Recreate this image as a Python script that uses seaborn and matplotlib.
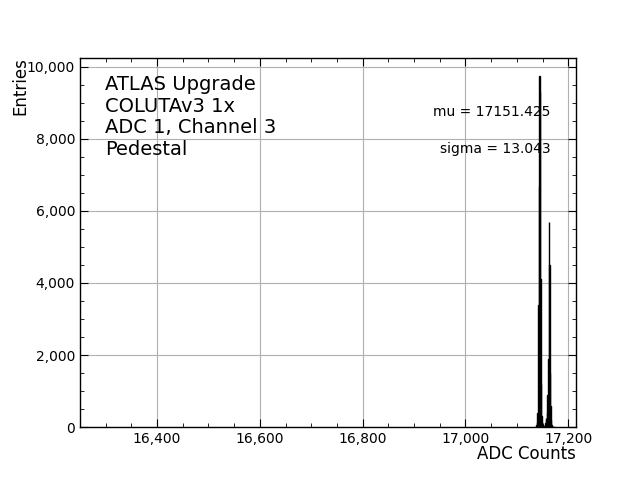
import matplotlib
matplotlib.use("Agg")
import matplotlib.pyplot as plt
import matplotlib.ticker as mticker
import seaborn as sns
import pandas as pd

adc_codes = list(range(17137, 17175))
entries = [20, 60, 150, 380, 350, 3400, 6700, 9750, 9300, 4100, 1200, 300,
           150, 60, 40, 30, 30, 40, 50, 120, 250, 200, 400, 900, 1900, 5700,
           4500, 1500, 600, 200, 60, 20, 10, 5, 0, 0, 0, 0]
title_lines = ["ATLAS Upgrade", "COLUTAv3 1x", "ADC 1, Channel 3", "Pedestal"]
mu_text = "mu = 17151.425"
sigma_text = "sigma = 13.043"

df = pd.DataFrame({"adc": adc_codes, "n": entries})

sns.set_style("white")
plt.rcParams['font.family'] = ['DejaVu Sans']
for k in ["text.color", "axes.labelcolor", "xtick.color", "ytick.color"]:
    plt.rcParams[k] = "black"
fig, ax = plt.subplots(figsize=(6.4, 4.8), dpi=100)

sns.histplot(data=df, x="adc", weights="n", discrete=True, color="black",
             edgecolor="black", linewidth=1.0, alpha=1.0, ax=ax)

ax.set_xlim(16250, 17215)
ax.set_ylim(0, 10250)
ax.grid(True, which="major", color="#b0b0b0", linewidth=0.8)
ax.set_axisbelow(True)
ax.xaxis.set_major_locator(mticker.MultipleLocator(200))
ax.xaxis.set_minor_locator(mticker.MultipleLocator(50))
ax.yaxis.set_major_locator(mticker.MultipleLocator(2000))
ax.yaxis.set_minor_locator(mticker.MultipleLocator(500))
fmt = mticker.FuncFormatter(lambda v, p: f"{int(v):,}")
ax.xaxis.set_major_formatter(fmt)
ax.yaxis.set_major_formatter(fmt)
ax.tick_params(which="both", direction="in", top=True, right=True,
               bottom=True, left=True, labelsize=10, colors="black")
ax.tick_params(which="major", length=6)
ax.tick_params(which="minor", length=3)
for s in ax.spines.values():
    s.set_color("black")
    s.set_linewidth(1.0)

ax.set_xlabel("ADC Counts", fontsize=12, loc="right", labelpad=-1)
ax.set_ylabel("Entries", fontsize=12, loc="top", labelpad=-2)

ax.text(0.05, 0.952, "\n".join(title_lines), transform=ax.transAxes,
        fontsize=14, va="top", ha="left", linespacing=1.17, color="black")
ax.text(0.948, 0.852, mu_text, transform=ax.transAxes, fontsize=10,
        ha="right", va="center", color="black")
ax.text(0.948, 0.752, sigma_text, transform=ax.transAxes, fontsize=10,
        ha="right", va="center", color="black")

fig.savefig("out.png", dpi=100)
